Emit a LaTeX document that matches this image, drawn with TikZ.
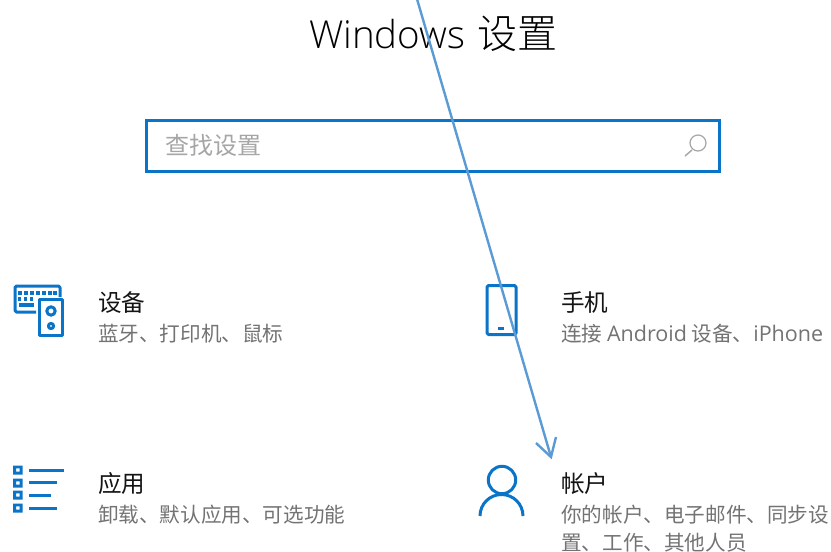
\documentclass[tikz,border=0pt]{standalone}
\usepackage{fontspec}
\setmainfont{Noto Sans CJK SC}
\newfontfamily\titlelatin{Open Sans Light}
\newfontfamily\titlecjk{Noto Sans CJK SC Light}
\newfontfamily\sublatin{Open Sans}
\definecolor{winblue}{HTML}{0A74C8}
\definecolor{arrowblue}{HTML}{5B9BD5}
\tikzset{
  head/.style={anchor=base west,inner sep=0pt,font=\fontsize{23.6}{23.6}\selectfont,text=black!92},
  sub/.style={anchor=base west,inner sep=0pt,font=\fontsize{20.6}{20.6}\selectfont,text=black!55},
  icon/.style={draw=winblue,line width=3pt,line join=round},
}
\begin{document}
\begin{tikzpicture}[x=1pt,y=-1pt]
\useasboundingbox (0,0) rectangle (831,552);
\fill[white] (0,0) rectangle (831,552);
% title
\node[anchor=base west,inner sep=0pt] (title) at (309,48) {{\titlelatin\fontsize{38.5}{40}\selectfont Windows}\hspace{12pt}{\titlecjk\fontsize{40}{40}\selectfont 设置}};
% search box
\node[draw=winblue,line width=3.4pt,minimum width=573pt,minimum height=51pt,inner sep=0pt,anchor=north west] (search) at (145,119) {};
\node[anchor=base west,inner sep=0pt,font=\fontsize{24}{24}\selectfont,text=black!35] (hint) at (165,154) {查找设置};
\draw[black!35,line width=1.2pt] (698,143) circle (8);
\draw[black!35,line width=1.4pt] (692,150) -- (685,156);
% devices
\draw[icon,rounded corners=1.5pt] (36,312) -- (15,312) -- (15,286) -- (60,286) -- (60,297);
\draw[icon] (39.5,299) rectangle (62,335);
\draw[icon] (51,311) circle (4.2);
\draw[icon] (51,326) circle (2.6);
\foreach \x in {20,26,32,38,44,50,55} \fill[winblue] (\x-1.7,291.3) rectangle (\x+1.7,294.7);
\foreach \x in {20,26,32} \fill[winblue] (\x-2,297.3) rectangle (\x+1.4,300.7);
\fill[winblue] (19,303.3) rectangle (34,306.7);
\node[head] (devh) at (98,311) {设备};
\node[sub] (devs) at (98,341) {蓝牙、打印机、鼠标};
% apps
\foreach \y in {470,483,495,508} {
  \fill[winblue,even odd rule] (13,\y-4.5) rectangle (22.5,\y+4.5) (16,\y-1.7) rectangle (19.5,\y+1.7);
}
\draw[icon] (29,470) -- (64,470);
\draw[icon] (29,482.5) -- (57,482.5);
\draw[icon] (29,495) -- (51,495);
\draw[icon] (29,508) -- (57,508);
\node[head] (apph) at (98,492) {应用};
\node[sub] (apps) at (98,522) {卸载、默认应用、可选功能};
% phone
\draw[icon,rounded corners=1.5pt] (487,285.5) rectangle (516,334.5);
\draw[winblue,line width=3pt] (498,328) -- (504,328);
\node[head] (phh) at (561,311) {手机};
\node[sub] (phs) at (561,341) {连接 {\sublatin\fontsize{21.5}{21.5}\selectfont Android} 设备、{\sublatin\fontsize{21.5}{21.5}\selectfont iPhone}};
% account
\draw[icon] (502,480) circle (13.7);
\draw[icon] (480,516) arc[start angle=180,end angle=360,radius=21.5];
\node[head] (acch) at (561,492) {帐户};
\node[sub] (accs) at (561,522) {你的帐户、电子邮件、同步设};
\node[sub] (accs2) at (561,550) {置、工作、其他人员};
% arrow
\coordinate (arrowstart) at (417,-1);
\coordinate (arrowtip) at (551,457);
\coordinate (barbl) at (536,443);
\coordinate (barbr) at (556,437);
\draw[arrowblue,line width=2.4pt] (arrowstart) -- (arrowtip);
\draw[arrowblue,line width=2.4pt,line join=miter] (barbl) -- (arrowtip) -- (barbr);
\end{tikzpicture}
\end{document}
